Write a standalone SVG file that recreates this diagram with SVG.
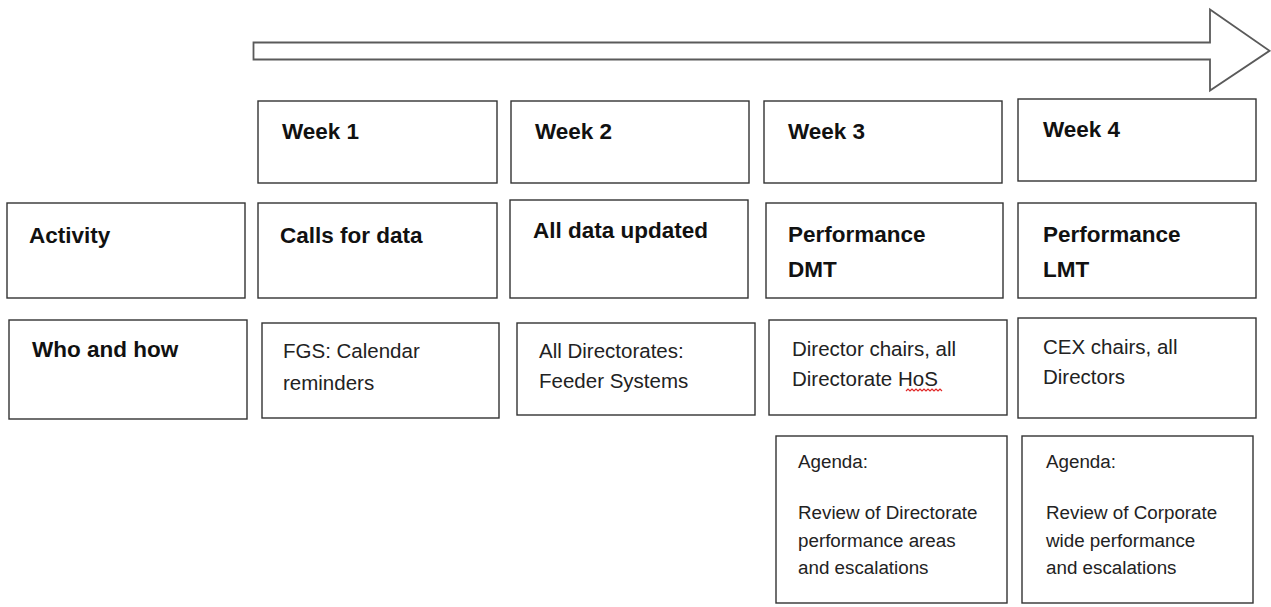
<svg xmlns="http://www.w3.org/2000/svg" width="1271" height="607" viewBox="0 0 1271 607">
<style>
.box{fill:#fff;stroke:#333;stroke-width:1.4}
.arrow{fill:#fff;stroke:#5a5a5a;stroke-width:1.8;stroke-linejoin:miter}
text{font-family:"Liberation Sans",Arial,sans-serif;fill:#111}
.b{font-weight:bold;font-size:22.5px}
.r{font-size:20.5px;fill:#222}
.s{font-size:18.8px;fill:#222}
.squig{fill:none;stroke:#e02828;stroke-width:1.2}
</style>
<rect width="1271" height="607" fill="#fff"/>
<g id="connectors">
<polygon class="arrow" points="253.5,42.5 1210,42.5 1210,9.5 1269.5,50.8 1210,90.5 1210,59.5 253.5,59.5"/>
</g>
<g id="week1"><rect class="box" x="258" y="101" width="239" height="82"/><text class="b" x="282" y="139">Week 1</text></g>
<g id="week2"><rect class="box" x="511" y="101" width="238" height="82"/><text class="b" x="535" y="139">Week 2</text></g>
<g id="week3"><rect class="box" x="764" y="101" width="238" height="82"/><text class="b" x="788" y="139">Week 3</text></g>
<g id="week4"><rect class="box" x="1018" y="99" width="238" height="82"/><text class="b" x="1043" y="137">Week 4</text></g>

<g id="activity"><rect class="box" x="7" y="203" width="238" height="95"/><text class="b" x="29" y="243">Activity</text></g>
<g id="calls"><rect class="box" x="258" y="203" width="239" height="95"/><text class="b" x="280" y="243">Calls for data</text></g>
<g id="updated"><rect class="box" x="510" y="200" width="238" height="98"/><text class="b" x="533" y="238">All data updated</text></g>
<g id="perfdmt"><rect class="box" x="766" y="203" width="237" height="95"/><text class="b" x="788" y="242">Performance</text><text class="b" x="788" y="277">DMT</text></g>
<g id="perflmt"><rect class="box" x="1018" y="203" width="238" height="95"/><text class="b" x="1043" y="242">Performance</text><text class="b" x="1043" y="277">LMT</text></g>

<g id="whohow"><rect class="box" x="9" y="320" width="238" height="99"/><text class="b" x="32" y="357">Who and how</text></g>
<g id="fgs"><rect class="box" x="262" y="323" width="237" height="95"/><text class="r" x="283" y="358">FGS: Calendar</text><text class="r" x="283" y="390">reminders</text></g>
<g id="alldir"><rect class="box" x="517" y="323" width="238" height="92"/><text class="r" x="539" y="358">All Directorates:</text><text class="r" x="539" y="388">Feeder Systems</text></g>
<g id="dirchairs"><rect class="box" x="769" y="320" width="238" height="95"/><text class="r" x="792" y="356">Director chairs, all</text><text class="r" x="792" y="386">Directorate HoS</text><path class="squig" d="M906,391 l2,-2 l2,2 l2,-2 l2,2 l2,-2 l2,2 l2,-2 l2,2 l2,-2 l2,2 l2,-2 l2,2 l2,-2 l2,2 l2,-2 l2,2 l2,-2 l2,2"/></g>
<g id="cexchairs"><rect class="box" x="1018" y="318" width="238" height="100"/><text class="r" x="1043" y="354">CEX chairs, all</text><text class="r" x="1043" y="384">Directors</text></g>

<g id="agenda3"><rect class="box" x="776" y="436" width="231" height="167"/><text class="s" x="798" y="468">Agenda:</text><text class="s" x="798" y="519">Review of Directorate</text><text class="s" x="798" y="547">performance areas</text><text class="s" x="798" y="574">and escalations</text></g>
<g id="agenda4"><rect class="box" x="1022" y="436" width="231" height="167"/><text class="s" x="1046" y="468">Agenda:</text><text class="s" x="1046" y="519">Review of Corporate</text><text class="s" x="1046" y="547">wide performance</text><text class="s" x="1046" y="574">and escalations</text></g>
</svg>
